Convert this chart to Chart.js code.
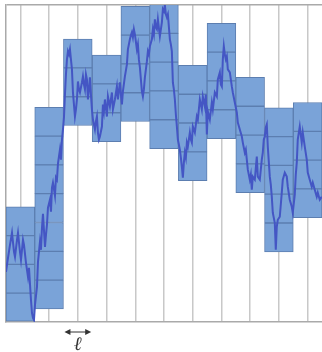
<!DOCTYPE html>
<html>
<head>
<meta charset="utf-8">
<title>Box counting</title>
<script src="https://cdn.jsdelivr.net/npm/chart.js@4/dist/chart.umd.min.js"></script>
<style>
  html, body { margin: 0; padding: 0; background: #fff; }
  #wrap { width: 322px; height: 352px; }
</style>
</head>
<body>
<div id="wrap"><canvas id="myChart" width="322" height="352"></canvas></div>
<script>
'use strict';

// strip width (also the box height), in walk units
var ell = 28.75;
var stripCount = 11;

// the walk: step and height
var walkT = [0, 2, 4, 6, 8, 9, 11, 12, 14, 15, 17, 18, 20, 22, 23, 25, 26, 27, 28,
  29, 30, 31, 32, 34, 35, 36, 37, 39, 40, 41, 42, 44, 45, 46, 47, 49, 50, 51, 52, 54, 55, 56, 57, 58,
  59, 60, 61, 62, 63, 64, 65, 66, 67, 68, 69, 70, 71, 72, 73, 74, 75, 76, 77, 78, 79, 80, 81, 82, 83, 84, 85, 86, 87,
  89, 90, 91, 92, 93, 94, 96, 97, 98, 99, 101, 102, 104, 106, 107, 109, 111, 112, 114, 115,
  116, 117, 119, 121, 122, 124, 125, 126, 127, 128, 129, 131, 132, 133, 134, 136, 137, 138, 139, 141, 142, 143,
  144, 146, 147, 148, 149, 150, 151, 152, 154, 155, 156, 157, 158, 159, 160, 161, 162, 164, 165, 166, 167, 168, 169, 170, 171, 172,
  174, 175, 176, 177, 178, 179, 180, 181, 182, 184, 185, 186, 187, 189, 191, 192, 194, 196, 197, 199, 200,
  201, 202, 204, 206, 207, 209, 211, 212, 214, 215, 216, 217, 218, 219, 220, 221, 222, 224, 226, 227, 229,
  231, 232, 234, 236, 237, 239, 240, 241, 242, 244, 245, 246, 247, 249, 251, 252, 254, 255, 256, 257, 258,
  259, 260, 261, 262, 264, 265, 266, 267, 269, 270, 271, 272, 274, 275, 276, 277, 279, 281, 282, 284, 286, 287,
  289, 290, 291, 292, 294, 295, 296, 297, 299, 301, 302, 304, 306, 307, 309, 311, 312, 314, 316];
var walkY = [50, 64, 77, 89, 70, 65, 82, 89, 70, 62, 82, 77, 59, 45, 54, 22, 9, 4, 2,
  17, 26, 35, 60, 80, 72, 94, 108, 75, 87, 97, 114, 122, 110, 134, 139, 126, 144, 142, 158, 172, 162, 182, 192, 204,
  227, 247, 262, 270, 267, 272, 262, 252, 229, 217, 205, 212, 222, 240, 232, 229, 234, 239, 245, 237, 232, 247, 242, 222, 232, 244, 227, 212, 202,
  192, 200, 205, 189, 182, 185, 195, 217, 210, 222, 205, 225, 215, 229, 212, 222, 235, 222, 239, 227,
  217, 230, 245, 257, 272, 282, 286, 289, 284, 292, 287, 272, 277, 262, 254, 230, 225, 232, 244, 260, 270, 267,
  275, 282, 292, 287, 302, 294, 292, 302, 285, 292, 299, 312, 310, 316, 307, 304, 307, 282, 277, 270, 239, 232, 222, 207, 195, 182,
  172, 164, 155, 144, 159, 169, 164, 179, 175, 189, 182, 179, 195, 189, 205, 202, 222, 212, 225, 215, 227,
  187, 210, 202, 219, 212, 229, 225, 242, 249, 237, 235, 262, 275, 267, 262, 265, 252, 249, 235, 229, 219,
  209, 199, 192, 185, 179, 169, 172, 162, 152, 142, 147, 132, 145, 142, 165, 145, 142, 152, 162, 169, 182,
  185, 194, 197, 175, 145, 137, 125, 109, 99, 72, 95, 102, 105, 117, 129, 142, 149, 145, 135, 122, 115, 109,
  127, 147, 159, 182, 195, 187, 179, 189, 175, 162, 149, 142, 135, 139, 132, 125, 129, 122, 125];

// per strip: where the stack of boxes starts and how many boxes it needs
var boxBottom = [0, 13, 196, 180, 200, 173, 141, 183, 129, 70, 104];
var boxCount = [4, 7, 3, 3, 4, 5, 4, 4, 4, 5, 4];

var boxFill = 'rgb(122, 163, 216)';
var boxLine = 'rgb(92, 126, 176)';
var walkColor = 'rgb(68, 86, 196)';
var gridGray = 'rgb(200, 200, 200)';

(function () {
  var yMax = stripCount * ell;

  var edges = [];
  for (var i = 0; i <= stripCount; i++) {
    edges.push(i * ell);
  }

  var walkPoints = [];
  for (var j = 0; j < walkT.length; j++) {
    walkPoints.push({ x: walkT[j], y: walkY[j] });
  }

  // one bar dataset per box row, floating bars [from, to]
  var maxCount = Math.max.apply(null, boxCount);
  var datasets = [];
  for (var k = 0; k < maxCount; k++) {
    var rowData = [];
    for (var s = 0; s < stripCount; s++) {
      if (boxCount[s] > k) {
        var lo = boxBottom[s] + k * ell;
        rowData.push({ x: (s + 0.5) * ell, y: [lo, lo + ell] });
      }
    }
    datasets.push({
      type: 'bar',
      data: rowData,
      backgroundColor: boxFill,
      borderColor: boxLine,
      borderWidth: 1,
      borderSkipped: false,
      grouped: false,
      barPercentage: 1,
      categoryPercentage: 1,
      order: 2
    });
  }

  datasets.push({
    type: 'line',
    data: walkPoints,
    borderColor: walkColor,
    borderWidth: 2,
    pointRadius: 0,
    tension: 0,
    fill: false,
    order: 0
  });

  // the double arrow with the strip width under the third strip
  var ellMarker = {
    id: 'ellMarker',
    afterDraw: function (chart) {
      var ctx = chart.ctx;
      var x = chart.scales.x;
      var x0 = x.getPixelForValue(2 * ell) + 1;
      var x1 = x.getPixelForValue(3 * ell) - 1;
      var y = chart.chartArea.bottom + 10;
      ctx.save();
      ctx.strokeStyle = '#333';
      ctx.fillStyle = '#333';
      ctx.lineWidth = 1;
      ctx.beginPath();
      ctx.moveTo(x0 + 3, y);
      ctx.lineTo(x1 - 3, y);
      ctx.stroke();
      ctx.beginPath();
      ctx.moveTo(x0, y);
      ctx.lineTo(x0 + 6, y - 3);
      ctx.lineTo(x0 + 6, y + 3);
      ctx.closePath();
      ctx.fill();
      ctx.beginPath();
      ctx.moveTo(x1, y);
      ctx.lineTo(x1 - 6, y - 3);
      ctx.lineTo(x1 - 6, y + 3);
      ctx.closePath();
      ctx.fill();
      ctx.font = 'italic 19px "DejaVu Serif"';
      ctx.textAlign = 'center';
      ctx.textBaseline = 'alphabetic';
      ctx.fillText('ℓ', (x0 + x1) / 2, y + 18);
      ctx.restore();
    }
  };

  var ctx = document.getElementById('myChart').getContext('2d');
  new Chart(ctx, {
    type: 'bar',
    data: { datasets: datasets },
    options: {
      responsive: false,
      animation: false,
      layout: { padding: { left: 6, top: 5, right: 0, bottom: 30 } },
      plugins: { legend: { display: false }, tooltip: { enabled: false } },
      scales: {
        x: {
          type: 'linear',
          min: 0,
          max: yMax,
          offset: false,
          afterBuildTicks: function (scale) {
            scale.ticks = edges.map(function (v) { return { value: v }; });
          },
          ticks: { display: false },
          grid: { color: gridGray, lineWidth: 1.5, drawTicks: false },
          border: { color: 'rgb(170, 170, 170)', width: 1.5 }
        },
        y: {
          type: 'linear',
          min: 0,
          max: yMax,
          afterBuildTicks: function (scale) {
            scale.ticks = [{ value: 0 }, { value: yMax }];
          },
          ticks: { display: false },
          grid: {
            drawTicks: false,
            lineWidth: 1.5,
            color: function (c) {
              return c.tick && c.tick.value === yMax ? 'rgb(170, 170, 170)' : 'rgba(0,0,0,0)';
            }
          },
          border: { color: 'rgb(170, 170, 170)', width: 1.5 }
        }
      }
    },
    plugins: [ellMarker]
  });
})();
</script>
</body>
</html>
